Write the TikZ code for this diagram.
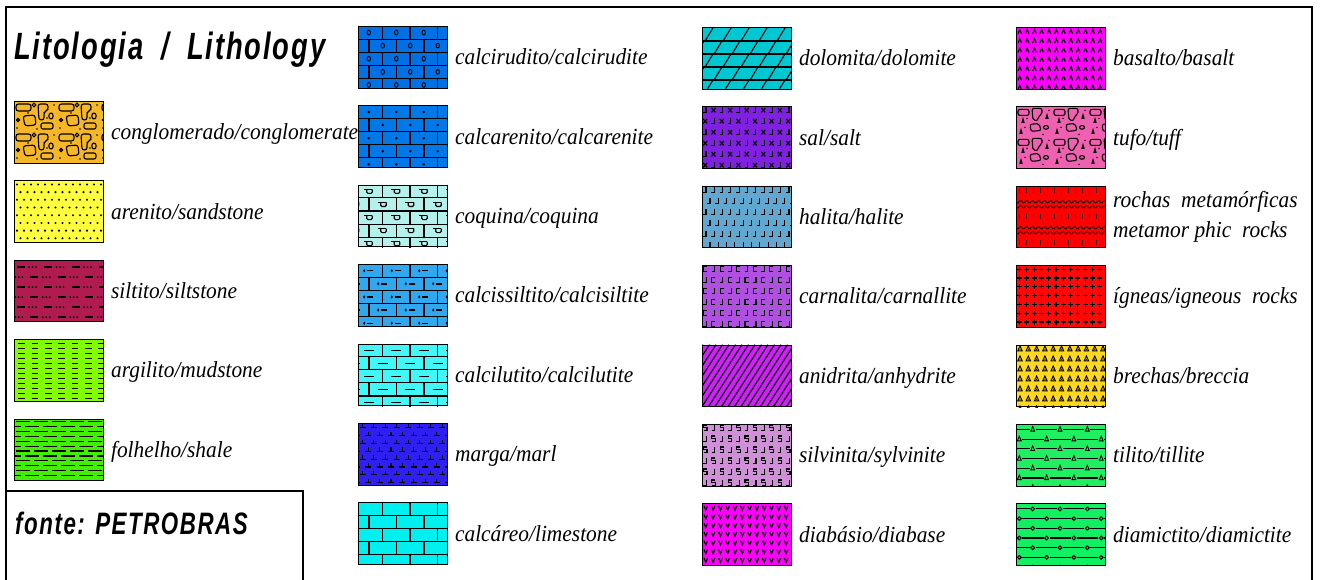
\documentclass[tikz,border=0pt]{standalone}
\usepackage{fontspec}
\setmainfont{Liberation Serif}
\newfontfamily\labelfont[FakeStretch=0.93]{Liberation Serif}
\newfontfamily\headfont[FakeStretch=0.72,LetterSpace=5]{Liberation Sans}
\usetikzlibrary{positioning}

% fill colours of the rock types
\definecolor{conglo}{RGB}{245,182,40}
\definecolor{areni}{RGB}{255,255,64}
\definecolor{silti}{RGB}{176,28,80}
\definecolor{argil}{RGB}{128,255,0}
\definecolor{folhe}{RGB}{64,240,0}
\definecolor{calcir}{RGB}{0,112,228}
\definecolor{calcar}{RGB}{0,120,232}
\definecolor{coqui}{RGB}{180,240,236}
\definecolor{calcis}{RGB}{48,168,240}
\definecolor{calcil}{RGB}{64,248,248}
\definecolor{marg}{RGB}{48,32,240}
\definecolor{calca}{RGB}{0,240,240}
\definecolor{dolom}{RGB}{0,200,210}
\definecolor{salt}{RGB}{128,32,224}
\definecolor{halit}{RGB}{96,168,208}
\definecolor{carna}{RGB}{176,80,224}
\definecolor{anidr}{RGB}{208,32,248}
\definecolor{silvi}{RGB}{208,144,216}
\definecolor{diaba}{RGB}{255,0,255}
\definecolor{basal}{RGB}{255,0,255}
\definecolor{tuff}{RGB}{240,96,176}
\definecolor{metam}{RGB}{255,0,0}
\definecolor{ignea}{RGB}{255,8,8}
\definecolor{brech}{RGB}{255,216,32}
\definecolor{tilit}{RGB}{32,240,96}
\definecolor{diami}{RGB}{16,240,96}

% pattern #2 inside swatch #1, origin at its top left corner
\newcommand\swatchpattern[2]{%
  \begin{scope}
    \clip (#1.north west) rectangle (#1.south east);
    \begin{scope}[shift={(#1.north west)}, line width=1.1pt]#2\end{scope}
  \end{scope}}

% brick wall, #1 is put in the middle of every brick (\bx,\by)
\newcommand\brickwall[1]{%
  \foreach \rw in {0,...,4} {
    \draw (0,{13.1*(\rw+1)}) -- (89,{13.1*(\rw+1)});
    \pgfmathsetmacro\bo{mod(\rw,2)==0 ? 24.5 : 11}
    \foreach \k in {0,...,3} {
      \draw ({\bo+27.5*\k},{13.1*\rw}) -- ++(0,13.1);
      \pgfmathsetmacro\bx{\bo-13.75+27.5*\k}
      \pgfmathsetmacro\by{13.1*\rw+6.55}
      #1
    }
  }}

% rows of lines broken by a symbol at (\sx,\ly)
\newcommand\tillrows[1]{%
  \foreach \j in {0,...,6} \foreach \k in {-1,...,3} {
    \pgfmathsetmacro\sx{16.7-mod(\j,2)*13.4+27.3*\k}
    \pgfmathsetmacro\ly{5.5+9.7*\j}
    \draw (\sx+3,\ly) -- (\sx+24.3,\ly);
    #1
  }}

% pebbles of the conglomerate
\newcommand\pebbles{%
  \draw[rounded corners=2.5pt] (2,3) rectangle (17,10);
  \draw (20,4) circle (1.8);
  \draw[rounded corners=2.5pt] (24,3) -- (34,3) -- (34,9) -- (30,11) -- (30,19) -- (25,19) -- cycle;
  \draw[rounded corners=2.5pt] (9,15) -- (21,14) -- (22,24) -- (11,25) -- cycle;
  \draw (4,19) circle (1.5);
  \draw (37,15) ellipse (2.2 and 3);
  \draw[rounded corners=2pt] (27,22) rectangle (39,28);
  \fill (14,12) circle (0.8) (40,4) circle (0.8) (3,27) circle (0.8) (23,28) circle (0.8) (33,17) circle (0.8);
}
% fragments of the tuff
\newcommand\tuffbits{%
  \draw[rounded corners=2pt] (2,3) rectangle (13,9);
  \draw[rounded corners=2pt] (16,2) -- (26,2) -- (26,8) -- (22,10) -- (22,14) -- (17,14) -- cycle;
  \draw[rounded corners=2pt] (14,18) -- (23,17) -- (25,24) -- (15,25) -- cycle;
  \draw (30,21) ellipse (2.5 and 1.8);
  \draw (6,16) -- (7,12.5) -- (8,16) -- cycle (4,27) -- (5,23.5) -- (6,27) -- cycle (30,12) -- (31,8.5) -- (32,12) -- cycle;
  \fill (11,12) circle (0.8) (33,4) circle (0.8) (27,28) circle (0.8) (9,21) circle (0.8);
}

% --- the patterns, one per rock type ---
\newcommand\litoconglomerado{\foreach \tx in {0,43,86} \foreach \ty in {0,30} {\begin{scope}[shift={(\tx,\ty)}]\pebbles\end{scope}}}
\newcommand\litoarenito{\foreach \j in {0,...,8} \foreach \i in {0,...,13} \fill ({3+7*\i+mod(\j,2)*3.5},{4+7.7*\j}) circle (1.15);}
\newcommand\litosiltito{\foreach \j in {0,...,5} \foreach \k in {-1,...,3} {
    \pgfmathsetmacro\xo{27.5*\k+mod(\j,2)*13.75}
    \pgfmathsetmacro\yo{7.3+10*\j}
    \draw[line width=1.3pt] (\xo+2.7,\yo) -- (\xo+10.5,\yo);
    \fill (\xo+15,\yo) circle (1) (\xo+18.5,\yo) circle (1) (\xo+22,\yo) circle (1);}}
\newcommand\litoargilito{\foreach \j in {0,...,11} \foreach \k in {0,...,6} \draw[line width=1.3pt] ({4.3+13.3*\k},{4.5+5*\j}) -- ++(6.7,0);}
\newcommand\litofolhelho{\foreach \j in {0,...,12} \foreach \k in {-1,...,5} \draw[line width=1.2pt] ({2+18*\k+mod(\j,2)*9},{3+4.9*\j}) -- ++(14,0);}
\newcommand\litocalcirudito{\brickwall{\draw[line width=0.9pt] (\bx,\by) ellipse (1.7 and 2.4);}}
\newcommand\litocalcarenito{\brickwall{\fill (\bx,\by) circle (1.4);}}
\newcommand\litocoquina{\brickwall{
    \draw (\bx-5,\by-2) -- (\bx+3.5,\by-2);
    \draw[rounded corners=1.2pt] (\bx-2,\by-2) -- (\bx-2,\by+2) -- (\bx+3.5,\by+2) -- (\bx+3.5,\by-2);}}
\newcommand\litocalcissiltito{\brickwall{\fill (\bx-4.5,\by) ellipse (1.1 and 1.6); \draw[line width=1.3pt] (\bx-1.5,\by) -- (\bx+4.5,\by);}}
\newcommand\litocalcilutito{\brickwall{\draw[line width=1.3pt] (\bx-5,\by) -- (\bx+5,\by);}}
\newcommand\litomarga{\foreach \j in {0,...,7} \foreach \i in {-1,...,7} {
    \pgfmathsetmacro\sx{4.5+11.4*\i+mod(\j,2)*5.7}
    \pgfmathsetmacro\sy{4.5+7.9*\j}
    \draw (\sx-3,\sy) -- (\sx+3,\sy) (\sx,\sy) -- (\sx,\sy-3.8);}}
\newcommand\litocalcareo{\brickwall{}}
\newcommand\litodolomita{%
  \foreach \rw in {1,...,4} \draw (0,{1+13*\rw}) -- (89,{1+13*\rw});
  \foreach \rw in {-1,...,4} \foreach \k in {-1,...,5} {
    \pgfmathsetmacro\sx{3+18*\k+mod(\rw+2,2)*9}
    \draw (\sx,{14+13*\rw}) -- (\sx+8,{1+13*\rw});}}
\newcommand\litosal{\foreach \j in {0,...,5} \foreach \i in {-1,...,5} {
    \pgfmathsetmacro\sx{1+16.6*\i+mod(\j,2)*8.3}
    \pgfmathsetmacro\sy{11*\j}
    \begin{scope}[shift={(\sx,\sy)}]
      \draw (0,6.5) -- (3,6.5) -- (3,1);
      \draw (8.5,1.5) -- (12.5,6) (12.5,1.5) -- (8.5,6);
    \end{scope}}}
\newcommand\litohalita{\foreach \j in {0,...,5} \foreach \i in {-1,...,11} {
    \pgfmathsetmacro\sx{1+8.3*\i+mod(\j,2)*4}
    \pgfmathsetmacro\sy{11*\j}
    \draw (\sx,\sy+6.5) -- (\sx+3,\sy+6.5) -- (\sx+3,\sy+1);}}
\newcommand\litocarnalita{\foreach \j in {0,...,5} \foreach \i in {-1,...,5} {
    \pgfmathsetmacro\sx{1+16.6*\i+mod(\j,2)*8.3}
    \pgfmathsetmacro\sy{11*\j}
    \begin{scope}[shift={(\sx,\sy)}]
      \draw (4,1) -- (0.5,1) -- (0.5,6.5) -- (4,6.5);
      \draw (8.5,6.5) -- (11.5,6.5) -- (11.5,1);
    \end{scope}}}
\newcommand\litoanidrita{\foreach \k in {-8,...,14} \draw ({6.5*\k},62) -- ++(40,-62);}
\newcommand\litosilvinita{\foreach \j in {0,...,5} \foreach \i in {-1,...,5} {
    \pgfmathsetmacro\sx{1+16.6*\i+mod(\j,2)*8.3}
    \pgfmathsetmacro\sy{11*\j}
    \begin{scope}[shift={(\sx,\sy)}]
      \draw (4,1) -- (0.5,1) -- (0.5,3.7) -- (4,3.7) -- (4,6.5) -- (0.5,6.5);
      \draw (8.5,6.5) -- (11.5,6.5) -- (11.5,1);
    \end{scope}}}
\newcommand\litodiabasio{\foreach \j in {0,...,7} \foreach \i in {0,...,12} {
    \pgfmathsetmacro\sx{2+7.3*\i}
    \pgfmathsetmacro\sy{2.5+8.7*\j}
    \draw (\sx,\sy) -- (\sx+1.8,\sy+4.3) -- (\sx+3.6,\sy);}}
\newcommand\litobasalto{\foreach \j in {0,...,7} \foreach \i in {0,...,12} {
    \pgfmathsetmacro\sx{2+7.3*\i}
    \pgfmathsetmacro\sy{2.5+9.3*\j}
    \draw (\sx,\sy+4.3) -- (\sx+1.8,\sy) -- (\sx+3.6,\sy+4.3);}}
\newcommand\litotufo{\foreach \tx in {0,36,72} \foreach \ty in {0,30} {\begin{scope}[shift={(\tx,\ty)}]\tuffbits\end{scope}}}
\newcommand\litometamorficas{%
  \foreach \yy in {2,28,54} \foreach \i in {0,...,12} \draw[black!75!metam, line width=1pt] ({3+7*\i},\yy) -- ++(0,5);
  \foreach \yy in {16,21,42,47} \draw[line width=0.8pt] plot[domain=0:89, samples=90] (\x,{\yy+1.3*sin(60*\x)});}
\newcommand\litoigneas{\foreach \j in {0,...,7} \foreach \i in {0,...,12} {
    \pgfmathsetmacro\sx{3.5+7.3*\i}
    \pgfmathsetmacro\sy{4+8.8*\j}
    \draw (\sx-2.5,\sy) -- (\sx+2.5,\sy) (\sx,\sy-2.5) -- (\sx,\sy+2.5);}}
\newcommand\litobrechas{\foreach \j in {0,...,6} \foreach \i in {0,...,10} {
    \pgfmathsetmacro\sx{4+8.3*\i}
    \pgfmathsetmacro\sy{4+10*\j}
    \draw[line width=0.9pt] (\sx-2.2,\sy+2.2) -- (\sx,\sy-2.7) -- (\sx+2.2,\sy+2.2) -- cycle;
    \fill (\sx,\sy+0.6) circle (0.7);}}
\newcommand\litotilito{\tillrows{\draw[line width=0.9pt] (\sx-1.9,\ly+1.6) -- (\sx,\ly-3) -- (\sx+1.9,\ly+1.6) -- cycle;}}
\newcommand\litodiamictito{\tillrows{\draw[line width=1pt] (\sx,\ly) circle (1.9);}}

\tikzset{
  sample/.style={draw, line width=0.9pt, minimum width=89pt, minimum height=61.5pt, inner sep=0pt},
  lbl/.style={inner sep=0pt, text height=17pt, text depth=2pt,
    font=\labelfont\itshape\fontsize{23}{30}\selectfont},
  lbltwo/.style={inner sep=0pt, align=left, font=\labelfont\itshape\fontsize{23}{30}\selectfont},
  head/.style={inner sep=0pt, anchor=base west, font=\headfont\bfseries\itshape},
  frame/.style={line width=1.6pt}
}

\begin{document}
\begin{tikzpicture}[x=1pt, y=-1pt]
  \useasboundingbox (0,0) rectangle (1320,579);
  \draw[frame] (6,582) |- (1312,7) -- (1312,582);
  \draw[line width=1.2pt] (6,491) -| (303,582);

  \node[head, font=\headfont\bfseries\itshape\fontsize{38}{40}\selectfont] (title) at (14,59) {Litologia\hspace{18pt}/\hspace{18pt}Lithology};
  \node[head, font=\headfont\bfseries\itshape\fontsize{31}{33}\selectfont] (fonte) at (15,534) {fonte: PETROBRAS};

  % first column
  \node[sample, fill=conglo, anchor=north west] (conglomerado) at (14,101) {};
  \node[sample, fill=areni, below=17pt of conglomerado] (arenito) {};
  \node[sample, fill=silti, below=17pt of arenito] (siltito) {};
  \node[sample, fill=argil, below=17pt of siltito] (argilito) {};
  \node[sample, fill=folhe, below=17pt of argilito] (folhelho) {};
  \node[lbl, right=7pt of conglomerado] (conglomerado-l) {conglomerado/conglomerate};
  \node[lbl, right=7pt of arenito] (arenito-l) {arenito/sandstone};
  \node[lbl, right=7pt of siltito] (siltito-l) {siltito/siltstone};
  \node[lbl, right=7pt of argilito] (argilito-l) {argilito/mudstone};
  \node[lbl, right=7pt of folhelho] (folhelho-l) {folhelho/shale};

  % second column
  \node[sample, fill=calcir, anchor=north west] (calcirudito) at (358,26) {};
  \node[sample, fill=calcar, below=17pt of calcirudito] (calcarenito) {};
  \node[sample, fill=coqui, below=17pt of calcarenito] (coquina) {};
  \node[sample, fill=calcis, below=17pt of coquina] (calcissiltito) {};
  \node[sample, fill=calcil, below=17pt of calcissiltito] (calcilutito) {};
  \node[sample, fill=marg, below=17pt of calcilutito] (marga) {};
  \node[sample, fill=calca, below=17pt of marga] (calcareo) {};
  \node[lbl, right=7pt of calcirudito] (calcirudito-l) {calcirudito/calcirudite};
  \node[lbl, right=7pt of calcarenito] (calcarenito-l) {calcarenito/calcarenite};
  \node[lbl, right=7pt of coquina] (coquina-l) {coquina/coquina};
  \node[lbl, right=7pt of calcissiltito] (calcissiltito-l) {calcissiltito/calcisiltite};
  \node[lbl, right=7pt of calcilutito] (calcilutito-l) {calcilutito/calcilutite};
  \node[lbl, right=7pt of marga] (marga-l) {marga/marl};
  \node[lbl, right=7pt of calcareo] (calcareo-l) {calcáreo/limestone};

  % third column
  \node[sample, fill=dolom, anchor=north west] (dolomita) at (702,27) {};
  \node[sample, fill=salt, below=17pt of dolomita] (sal) {};
  \node[sample, fill=halit, below=17pt of sal] (halita) {};
  \node[sample, fill=carna, below=17pt of halita] (carnalita) {};
  \node[sample, fill=anidr, below=17pt of carnalita] (anidrita) {};
  \node[sample, fill=silvi, below=17pt of anidrita] (silvinita) {};
  \node[sample, fill=diaba, below=17pt of silvinita] (diabasio) {};
  \node[lbl, right=7pt of dolomita] (dolomita-l) {dolomita/dolomite};
  \node[lbl, right=7pt of sal] (sal-l) {sal/salt};
  \node[lbl, right=7pt of halita] (halita-l) {halita/halite};
  \node[lbl, right=7pt of carnalita] (carnalita-l) {carnalita/carnallite};
  \node[lbl, right=7pt of anidrita] (anidrita-l) {anidrita/anhydrite};
  \node[lbl, right=7pt of silvinita] (silvinita-l) {silvinita/sylvinite};
  \node[lbl, right=7pt of diabasio] (diabasio-l) {diabásio/diabase};

  % fourth column
  \node[sample, fill=basal, anchor=north west] (basalto) at (1016,27) {};
  \node[sample, fill=tuff, below=17pt of basalto] (tufo) {};
  \node[sample, fill=metam, below=17pt of tufo] (metamorficas) {};
  \node[sample, fill=ignea, below=17pt of metamorficas] (igneas) {};
  \node[sample, fill=brech, below=17pt of igneas] (brechas) {};
  \node[sample, fill=tilit, below=17pt of brechas] (tilito) {};
  \node[sample, fill=diami, below=17pt of tilito] (diamictito) {};
  \node[lbl, right=7pt of basalto] (basalto-l) {basalto/basalt};
  \node[lbl, right=7pt of tufo] (tufo-l) {tufo/tuff};
  \node[lbltwo, right=7pt of metamorficas] (metamorficas-l) {rochas\ \ metamórficas\\metamor phic\ \ rocks};
  \node[lbl, right=7pt of igneas] (igneas-l) {ígneas/igneous\ \ rocks};
  \node[lbl, right=7pt of brechas] (brechas-l) {brechas/breccia};
  \node[lbl, right=7pt of tilito] (tilito-l) {tilito/tillite};
  \node[lbl, right=7pt of diamictito] (diamictito-l) {diamictito/diamictite};

  % patterns inside the swatches
  \foreach \n in {conglomerado,arenito,siltito,argilito,folhelho,
                  calcirudito,calcarenito,coquina,calcissiltito,calcilutito,marga,calcareo,
                  dolomita,sal,halita,carnalita,anidrita,silvinita,diabasio,
                  basalto,tufo,metamorficas,igneas,brechas,tilito,diamictito}
    \swatchpattern{\n}{\csname lito\n\endcsname};
\end{tikzpicture}
\end{document}
